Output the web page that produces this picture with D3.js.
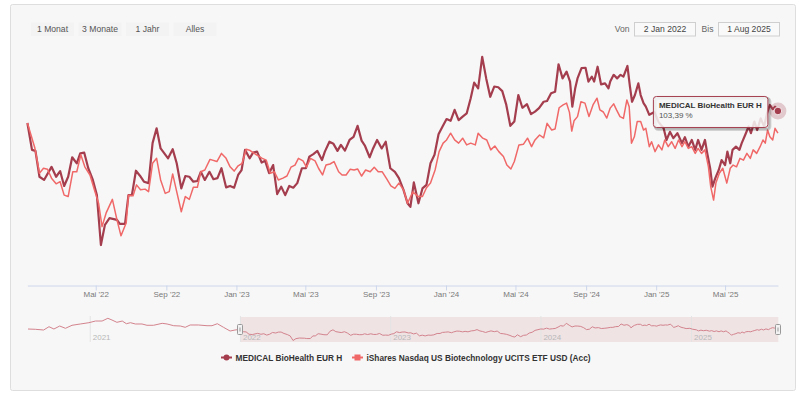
<!DOCTYPE html>
<html>
<head>
<meta charset="utf-8">
<script src="https://cdn.jsdelivr.net/npm/d3@7"></script>
<style>
	body { margin: 0; background: #fff; }
	svg { display: block; font-family: "Liberation Sans", Arial, sans-serif; }
</style>
</head>
<body>
<svg id="chart" width="800" height="397"></svg>
<script>
// performance in % (first day = 100), weekly-ish closes
var medDates = [
	"2022-01-02","2022-01-10","2022-01-16","2022-01-23","2022-01-31","2022-02-13","2022-02-21","2022-02-28","2022-03-07","2022-03-14","2022-03-21","2022-03-29",
	"2022-04-04","2022-04-11","2022-04-18","2022-04-26","2022-05-03","2022-05-10","2022-05-17","2022-05-25","2022-06-07","2022-06-12","2022-06-21","2022-06-27",
	"2022-07-03","2022-07-10","2022-07-17","2022-07-24","2022-08-01","2022-08-08","2022-08-15","2022-08-22","2022-09-04","2022-09-12","2022-09-19","2022-09-27",
	"2022-10-04","2022-10-11","2022-10-18","2022-10-25","2022-10-31","2022-11-07","2022-11-15","2022-11-22","2022-11-29","2022-12-06","2022-12-14","2022-12-21","2022-12-28",
	"2023-01-04","2023-01-10","2023-01-16","2023-01-24","2023-01-30","2023-02-06","2023-02-14","2023-02-20","2023-02-27","2023-03-06","2023-03-13","2023-03-20","2023-03-27",
	"2023-04-03","2023-04-10","2023-04-17","2023-04-25","2023-05-02","2023-05-08","2023-05-15","2023-05-22","2023-05-30","2023-06-04","2023-06-12","2023-06-19","2023-06-26",
	"2023-07-02","2023-07-09","2023-07-17","2023-07-24","2023-07-31","2023-08-07","2023-08-13","2023-08-21","2023-08-27","2023-09-03","2023-09-11","2023-09-18","2023-09-26",
	"2023-10-04","2023-10-11","2023-10-19","2023-10-26","2023-10-31","2023-11-06","2023-11-14","2023-11-21","2023-11-28","2023-12-05","2023-12-12","2023-12-19","2023-12-26",
	"2024-01-02","2024-01-09","2024-01-16","2024-01-23","2024-01-30","2024-02-06","2024-02-13","2024-02-19","2024-02-26","2024-03-04","2024-03-11","2024-03-18","2024-03-25",
	"2024-04-01","2024-04-08","2024-04-15","2024-04-22","2024-04-29","2024-05-06","2024-05-13","2024-05-21","2024-05-28","2024-06-04","2024-06-11","2024-06-19","2024-06-25",
	"2024-07-02","2024-07-09","2024-07-15","2024-07-22","2024-07-29","2024-08-04","2024-08-08","2024-08-13","2024-08-17","2024-08-24","2024-08-31",
	"2024-09-05","2024-09-11","2024-09-15","2024-09-21","2024-09-27","2024-10-04","2024-10-10","2024-10-13","2024-10-19","2024-10-25","2024-10-31",
	"2024-11-05","2024-11-12","2024-11-16","2024-11-20","2024-11-25","2024-12-01","2024-12-05","2024-12-10","2024-12-14","2024-12-20","2024-12-29",
	"2025-01-05","2025-01-14","2025-01-19","2025-01-25","2025-01-31","2025-02-07","2025-02-15","2025-02-20","2025-02-26","2025-03-04","2025-03-10","2025-03-15","2025-03-21","2025-03-27","2025-03-31",
	"2025-04-05","2025-04-09","2025-04-14","2025-04-20","2025-04-25","2025-05-01","2025-05-05","2025-05-10","2025-05-14","2025-05-20","2025-05-26","2025-05-30",
	"2025-06-05","2025-06-11","2025-06-15","2025-06-21","2025-06-26","2025-07-02","2025-07-08","2025-07-13","2025-07-18","2025-07-23","2025-07-27","2025-08-01"
];
var medValues = [
	100.0,92.4,92.1,84.8,83.9,87.6,84.8,86.4,82.2,84.8,90.3,88.6,
	91.4,91.6,87.2,83.9,79.6,65.5,71.2,73.1,72.6,71.5,71.5,79.6,
	79.6,86.5,85.1,83.4,83.0,94.3,98.5,92.8,90.0,92.6,88.6,81.5,
	85.0,84.8,83.4,83.6,86.2,83.9,86.2,84.1,84.4,87.2,81.8,82.2,81.7,
	85.3,86.7,92.4,90.0,91.6,91.9,88.8,89.3,85.8,88.1,79.9,82.0,79.6,
	82.2,81.7,83.0,87.2,87.2,90.5,91.2,92.1,89.5,91.9,94.7,94.1,92.1,
	93.8,92.2,95.2,96.1,99.2,95.0,93.5,90.3,92.8,95.2,92.8,94.7,87.2,
	86.2,84.4,81.1,77.3,76.3,83.2,77.3,81.5,82.5,88.6,91.0,96.8,99.0,
	101.1,100.6,103.7,100.8,101.8,102.7,107.0,111.4,109.8,118.7,112.6,107.4,110.3,
	110.1,109.0,105.1,99.2,100.4,107.9,104.3,105.3,102.5,103.2,104.2,106.0,106.2,
	108.4,108.8,116.6,112.6,114.5,111.7,104.6,109.8,112.6,115.5,115.6,
	111.7,113.1,111.7,115.9,110.9,111.2,109.8,111.7,113.6,112.6,113.6,
	113.1,116.1,110.7,106.0,107.9,111.2,107.9,105.6,104.6,102.3,103.1,
	100.3,98.5,95.2,97.5,95.7,97.1,94.3,96.0,93.3,95.2,92.4,95.2,92.4,95.2,91.4,
	87.2,82.0,84.4,86.7,89.5,88.1,91.9,88.6,92.4,93.3,92.4,94.3,
	96.6,99.0,97.1,100.4,98.0,101.3,99.0,102.7,105.1,103.9,104.6,103.39
];

var ishDates = [
	"2022-01-02","2022-01-15","2022-01-23","2022-01-30","2022-02-06","2022-02-13","2022-02-21","2022-02-28","2022-03-07","2022-03-14","2022-03-22","2022-03-29",
	"2022-04-05","2022-04-12","2022-04-21","2022-04-28","2022-05-06","2022-05-12","2022-05-19","2022-05-30","2022-06-07","2022-06-14","2022-06-23","2022-06-27",
	"2022-07-05","2022-07-11","2022-07-18","2022-07-26","2022-08-01","2022-08-08","2022-08-15","2022-08-22","2022-08-30","2022-09-06","2022-09-12","2022-09-19","2022-09-27",
	"2022-10-04","2022-10-11","2022-10-18","2022-10-25","2022-10-31","2022-11-07","2022-11-16","2022-11-28","2022-12-06","2022-12-14","2022-12-21","2022-12-28",
	"2023-01-04","2023-01-11","2023-01-18","2023-01-25","2023-02-01","2023-02-08","2023-02-15","2023-02-22","2023-03-01","2023-03-08","2023-03-15","2023-03-23","2023-03-30",
	"2023-04-06","2023-04-13","2023-04-19","2023-04-27","2023-05-03","2023-05-10","2023-05-18","2023-05-24","2023-05-31","2023-06-06","2023-06-13","2023-06-20","2023-06-28",
	"2023-07-04","2023-07-11","2023-07-18","2023-07-25","2023-07-31","2023-08-07","2023-08-14","2023-08-22","2023-08-29","2023-09-05","2023-09-12","2023-09-20","2023-09-27",
	"2023-10-04","2023-10-11","2023-10-19","2023-10-26","2023-11-04","2023-11-14","2023-11-21","2023-11-28","2023-12-05","2023-12-13","2023-12-20","2023-12-27",
	"2024-01-02","2024-01-09","2024-01-16","2024-01-23","2024-01-30","2024-02-06","2024-02-13","2024-02-21","2024-02-26","2024-03-05","2024-03-12","2024-03-19","2024-03-26",
	"2024-04-02","2024-04-10","2024-04-16","2024-04-23","2024-04-29","2024-05-07","2024-05-15","2024-05-22","2024-05-29","2024-06-04","2024-06-12","2024-06-19","2024-06-25",
	"2024-07-03","2024-07-09","2024-07-16","2024-07-23","2024-07-29","2024-08-03","2024-08-07","2024-08-11","2024-08-17","2024-08-23","2024-08-30",
	"2024-09-06","2024-09-13","2024-09-20","2024-09-25","2024-10-01","2024-10-07","2024-10-13","2024-10-19","2024-10-24","2024-10-30",
	"2024-11-05","2024-11-11","2024-11-15","2024-11-19","2024-11-24","2024-11-29","2024-12-05","2024-12-10","2024-12-14","2024-12-20","2024-12-24","2024-12-30",
	"2025-01-05","2025-01-11","2025-01-16","2025-01-22","2025-01-28","2025-02-03","2025-02-09","2025-02-15","2025-02-20","2025-02-26","2025-03-04","2025-03-10","2025-03-15","2025-03-21","2025-03-27",
	"2025-04-02","2025-04-06","2025-04-11","2025-04-15","2025-04-21","2025-04-27","2025-05-04","2025-05-10","2025-05-15","2025-05-21","2025-05-27",
	"2025-06-02","2025-06-08","2025-06-14","2025-06-19","2025-06-25","2025-07-01","2025-07-06","2025-07-10","2025-07-14","2025-07-18","2025-07-23","2025-07-27","2025-08-01"
];
var ishValues = [
	100.0,92.9,85.8,87.2,86.9,84.4,82.8,83.4,79.6,79.2,86.2,86.2,
	91.0,87.6,85.3,81.5,77.3,70.7,74.5,78.4,72.6,68.1,71.7,79.6,
	79.4,82.5,81.1,81.3,80.6,88.6,90.0,83.9,80.1,80.6,85.6,80.6,74.9,
	79.2,78.4,81.8,81.8,86.2,86.7,89.7,89.1,91.4,90.0,87.6,86.4,
	87.9,88.6,92.6,92.2,91.4,90.7,90.0,89.5,85.8,86.2,83.9,84.4,85.0,
	87.5,88.1,90.0,89.3,87.5,90.0,89.3,87.2,85.3,88.1,88.4,89.1,86.2,
	85.3,85.3,86.9,86.7,87.0,85.0,86.7,86.2,87.5,86.2,86.2,84.1,82.2,
	81.5,83.0,81.1,77.3,80.5,79.2,79.2,81.7,83.0,86.7,91.9,94.3,
	95.2,97.1,95.2,94.3,95.7,93.8,94.3,93.8,97.1,95.7,95.2,92.4,93.5,
	91.9,90.5,88.1,87.0,89.1,93.8,94.0,95.7,93.3,95.2,96.6,95.8,99.9,
	98.0,98.3,104.3,105.1,105.6,103.0,97.7,100.6,101.8,106.0,105.6,
	101.8,105.1,107.0,103.7,103.1,101.4,104.2,105.4,103.7,101.8,
	101.3,106.5,104.6,94.3,96.1,100.4,100.4,98.0,98.5,93.3,94.7,91.9,
	93.8,92.4,95.2,93.3,94.7,92.8,95.2,93.3,94.7,92.8,93.3,91.4,92.8,91.4,92.4,
	87.6,82.0,78.2,83.0,85.8,87.2,83.0,87.2,88.1,87.6,90.0,
	89.5,91.4,90.0,92.4,91.4,93.3,95.2,94.3,98.0,96.1,95.2,98.5,97.1
];

// navigator shows the fund's longer history before the selected range
var navHistDates = [
	"2020-08-04","2020-08-22","2020-09-11","2020-09-24","2020-10-06","2020-10-20","2020-11-03","2020-11-19","2020-12-09","2020-12-30",
	"2021-01-15","2021-01-31","2021-02-14","2021-02-24","2021-03-08","2021-03-21","2021-03-31","2021-04-10","2021-04-22","2021-05-08",
	"2021-05-20","2021-06-05","2021-06-26","2021-07-08","2021-07-24","2021-08-09","2021-08-21","2021-09-02","2021-09-22","2021-10-13",
	"2021-10-25","2021-11-07","2021-11-22","2021-12-08","2021-12-20"
];
var navHistValues = [
	101.0,100.1,97.9,108.1,101.0,110.3,103.2,112.5,116.5,120.5,
	125.7,125.7,134.1,128.8,121.7,125.7,117.4,120.5,116.5,116.5,
	112.5,112.5,118.6,116.5,111.2,110.3,106.3,113.4,113.4,111.2,
	111.2,117.4,106.3,94.8,97.9
];

var tickDates = ["2022-05-01","2022-09-01","2023-01-01","2023-05-01","2023-09-01","2024-01-01","2024-05-01","2024-09-01","2025-01-01","2025-05-01"];
var tickLabels = ["Mai '22","Sep '22","Jan '23","Mai '23","Sep '23","Jan '24","Mai '24","Sep '24","Jan '25","Mai '25"];
var navYears = ["2021","2022","2023","2024","2025"];
var rangeButtons = ["1 Monat","3 Monate","1 Jahr","Alles"];
var seriesNames = ["MEDICAL BioHealth EUR H","iShares Nasdaq US Biotechnology UCITS ETF USD (Acc)"];

var darkRed = "#a43e4e";
var lightRed = "#f06868";
var parseDate = d3.timeParse("%Y-%m-%d");
var de = d3.formatLocale({decimal: ",", thousands: ".", grouping: [3], currency: ["", " €"]});

var x, y, medData, ishData;

init();

function init() {
	medData = toPoints(medDates, medValues);
	ishData = toPoints(ishDates, ishValues);

	x = d3.scaleTime()
		.domain([medData[0].date, medData[medData.length - 1].date])
		.range([27.4, 777.9]);
	y = d3.scaleLinear()
		.domain([54.2, 124.3])
		.range([285, 37]);

	var svg = d3.select("#chart");
	drawFrame(svg);
	drawMain(svg);
	drawNavigator(svg);
	drawLegend(svg);
	drawTooltip(svg);
}

function toPoints(dates, values) {
	return dates.map((d, i) => ({ date: parseDate(d), value: values[i] }));
}

function drawFrame(svg) {
	svg.append("rect")
		.attr("x", 10.5).attr("y", 4.5)
		.attr("width", 785).attr("height", 386)
		.attr("rx", 2)
		.attr("fill", "#f7f7f7")
		.attr("stroke", "#dedede");

	// range selector buttons
	var btn = svg.append("g").selectAll("g")
		.data(rangeButtons)
		.enter().append("g")
		.attr("transform", (d, i) => `translate(${31 + i * 47.5},22.5)`);
	btn.append("rect")
		.attr("width", 43).attr("height", 13.5)
		.attr("fill", "#f3f3f3");
	btn.append("text")
		.attr("x", 21.5).attr("y", 9.6)
		.attr("text-anchor", "middle")
		.attr("font-size", 8.6)
		.attr("fill", "#555")
		.text(d => d);

	// date inputs
	var fmt = d3.timeFormat("%-d %b %Y");
	var inputs = [
		{ label: "Von", x: 634.5, text: fmt(x.domain()[0]) },
		{ label: "Bis", x: 718.5, text: fmt(x.domain()[1]) }
	];
	var inp = svg.append("g").selectAll("g")
		.data(inputs)
		.enter().append("g");
	inp.append("text")
		.attr("x", d => d.x - 5).attr("y", 32)
		.attr("text-anchor", "end")
		.attr("font-size", 8.6)
		.attr("fill", "#666")
		.text(d => d.label);
	inp.append("rect")
		.attr("x", d => d.x).attr("y", 22.5)
		.attr("width", 61).attr("height", 13.5)
		.attr("fill", "#f9f9f9")
		.attr("stroke", "#cfcfcf");
	inp.append("text")
		.attr("x", d => d.x + 30.5).attr("y", 32)
		.attr("text-anchor", "middle")
		.attr("font-size", 8.6)
		.attr("fill", "#444")
		.text(d => d.text);
}

function drawMain(svg) {
	var axis = d3.axisBottom(x)
		.tickValues(tickDates.map(parseDate))
		.tickFormat((d, i) => tickLabels[i])
		.tickSize(5)
		.tickSizeOuter(0)
		.tickPadding(1);

	var g = svg.append("g")
		.attr("transform", "translate(0,285.5)")
		.call(axis);
	g.select(".domain").attr("stroke", "#ccd6eb");
	g.selectAll(".tick line").attr("stroke", "#ccd6eb");
	g.selectAll(".tick text")
		.attr("fill", "#7a7a7a")
		.attr("font-size", 8)
		.attr("font-family", "Liberation Sans, Arial, sans-serif");

	var line = d3.line()
		.x(d => x(d.date))
		.y(d => y(d.value));

	svg.append("path")
		.datum(medData)
		.attr("d", line)
		.attr("fill", "none")
		.attr("stroke", darkRed)
		.attr("stroke-width", 2.2)
		.attr("stroke-linejoin", "round");

	svg.append("path")
		.datum(ishData)
		.attr("d", line)
		.attr("fill", "none")
		.attr("stroke", lightRed)
		.attr("stroke-width", 1.5)
		.attr("stroke-linejoin", "round");
}

function drawNavigator(svg) {
	var navData = toPoints(navHistDates, navHistValues).concat(medData);
	var navX = d3.scaleTime()
		.domain(d3.extent(navData, d => d.date))
		.range([28, 778.3]);
	var navY = d3.scaleLinear()
		.domain(d3.extent(navData, d => d.value))
		.range([340.5, 318.3]);

	var x0 = navX(medData[0].date);
	var x1 = navX(medData[medData.length - 1].date);

	svg.append("rect")
		.attr("x", x0).attr("y", 317)
		.attr("width", x1 - x0).attr("height", 25)
		.attr("fill", "#efe3e4");

	var years = svg.append("g").selectAll("g")
		.data(navYears)
		.enter().append("g")
		.attr("transform", d => `translate(${navX(parseDate(d + "-01-01"))},0)`);
	years.append("line")
		.attr("x1", 0.5).attr("x2", 0.5)
		.attr("y1", 316).attr("y2", 342)
		.attr("stroke", "#e4e4e4");
	years.append("text")
		.attr("x", 3).attr("y", 339.5)
		.attr("font-size", 8)
		.attr("fill", "#b8b8b8")
		.text(d => d);

	svg.append("path")
		.datum(navData)
		.attr("d", d3.line().x(d => navX(d.date)).y(d => navY(d.value)))
		.attr("fill", "none")
		.attr("stroke", "#d3838d")
		.attr("stroke-width", 1);

	// handles
	var h = svg.append("g").selectAll("g")
		.data([x0, x1])
		.enter().append("g")
		.attr("transform", d => `translate(${Math.round(d) - 2.5},324.5)`);
	h.append("rect")
		.attr("width", 5).attr("height", 10)
		.attr("rx", 1)
		.attr("fill", "#f2f2f2")
		.attr("stroke", "#999");
	h.append("line")
		.attr("x1", 2.5).attr("x2", 2.5)
		.attr("y1", 3).attr("y2", 7)
		.attr("stroke", "#999");
}

function drawLegend(svg) {
	var items = [
		{ name: seriesNames[0], color: darkRed, x: 221, shape: "circle" },
		{ name: seriesNames[1], color: lightRed, x: 352, shape: "square" }
	];
	var g = svg.append("g").selectAll("g")
		.data(items)
		.enter().append("g")
		.attr("transform", d => `translate(${d.x},357.5)`);
	g.append("line")
		.attr("x1", 0).attr("x2", 11)
		.attr("stroke", d => d.color)
		.attr("stroke-width", 2);
	g.filter(d => d.shape == "circle").append("circle")
		.attr("cx", 5.5).attr("r", 3)
		.attr("fill", d => d.color);
	g.filter(d => d.shape == "square").append("rect")
		.attr("x", 2.5).attr("y", -3)
		.attr("width", 6).attr("height", 6)
		.attr("fill", d => d.color);
	g.append("text")
		.attr("x", 14.5).attr("y", 3)
		.attr("font-size", 8.3)
		.attr("font-weight", "bold")
		.attr("fill", "#333")
		.text(d => d.name);
}

function drawTooltip(svg) {
	var last = medData[medData.length - 1];
	var px = x(last.date), py = y(last.value);

	// hover marker with halo
	svg.append("circle")
		.attr("cx", px).attr("cy", py).attr("r", 8.5)
		.attr("fill", darkRed).attr("fill-opacity", 0.25);
	svg.append("circle")
		.attr("cx", px).attr("cy", py).attr("r", 3.8)
		.attr("fill", darkRed)
		.attr("stroke", "#fff").attr("stroke-width", 0.8);

	var bx = px - 124.5, by = py - 14.5;
	var tip = svg.append("g").attr("transform", `translate(${bx},${by})`);
	// soft shadow
	[3, 2, 1].forEach(o => {
		tip.append("rect")
			.attr("x", o * 0.5 + 0.5).attr("y", o * 0.5 + 0.5)
			.attr("width", 114.5).attr("height", 31)
			.attr("rx", 3)
			.attr("fill", "none")
			.attr("stroke", "#000")
			.attr("stroke-opacity", 0.05 * o)
			.attr("stroke-width", o);
	});
	tip.append("rect")
		.attr("width", 114.5).attr("height", 31)
		.attr("rx", 3)
		.attr("fill", "#f7f7f7").attr("fill-opacity", 0.85)
		.attr("stroke", darkRed);
	tip.append("text")
		.attr("x", 5.5).attr("y", 11.8)
		.attr("font-size", 8)
		.attr("font-weight", "bold")
		.attr("fill", "#333")
		.text(seriesNames[0]);
	tip.append("text")
		.attr("x", 5.5).attr("y", 21.5)
		.attr("font-size", 8)
		.attr("fill", "#555")
		.text(de.format(".2f")(last.value) + " %");
}
</script>
</body>
</html>
